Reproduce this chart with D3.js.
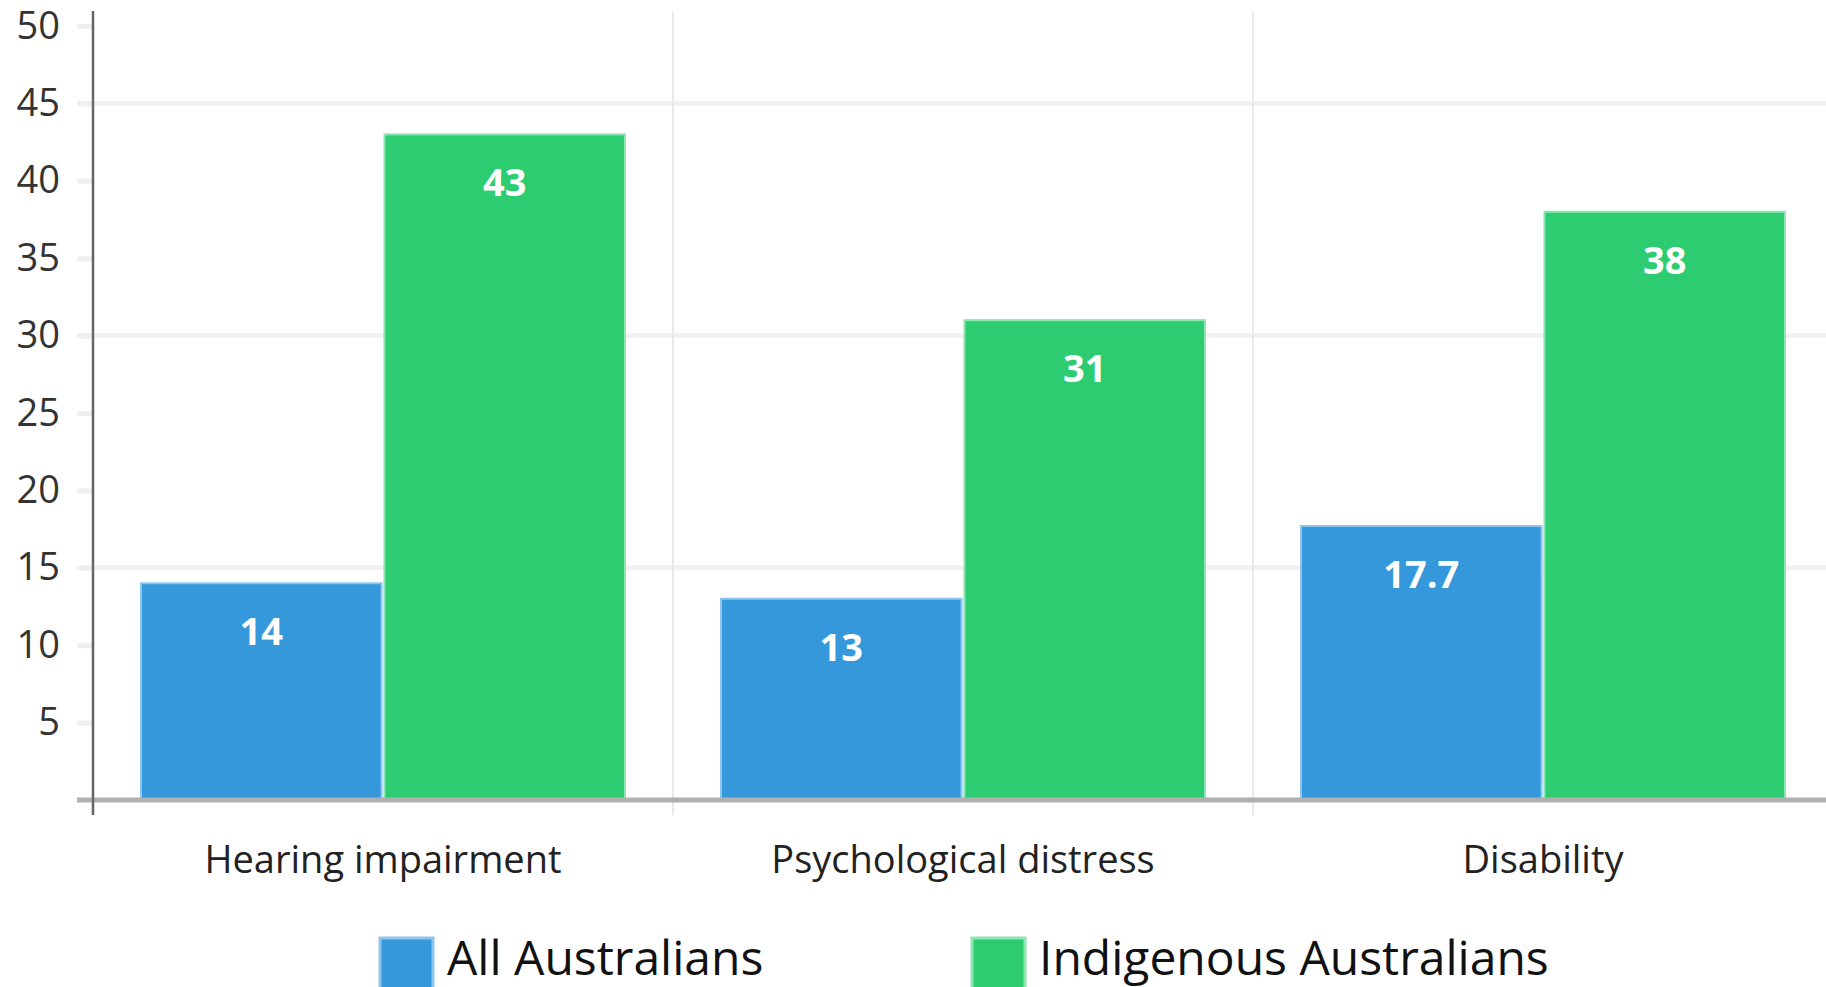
<!DOCTYPE html>
<html><head><meta charset="utf-8">
<script src="https://cdn.jsdelivr.net/npm/d3@7"></script>
<style>html,body{margin:0;padding:0;background:#fff;overflow:hidden}svg{display:block}text{font-family:"Open Sans",sans-serif}</style>
</head><body><svg id="c" width="1826" height="987"></svg>
<script>
const categories = ["Hearing impairment", "Psychological distress", "Disability"];
const seriesNames = ["All Australians", "Indigenous Australians"];
const allAustralians = [14, 13, 17.7];
const indigenousAustralians = [43, 31, 38];
const yTicks = [5, 10, 15, 20, 25, 30, 35, 40, 45, 50];
const gridTicks = [15, 30, 45];
const colors = ["#3498db", "#2ecc71"];
const strokes = ["#8cc6ef", "#8be6b1"];

const svg = d3.select("#c");
const x0 = d3.scaleBand().domain(categories).range([93, 1833]);
const x1 = d3.scaleBand().domain(seriesNames).range([48, x0.bandwidth() - 48]).paddingInner(0.012);
const y = d3.scaleLinear().domain([0, 50]).range([800, 26]);

// gridlines
svg.append("g").selectAll("line").data(gridTicks).join("line")
  .attr("x1", 77).attr("x2", 1826).attr("y1", d => y(d)).attr("y2", d => y(d))
  .attr("stroke", "#f1f1f1").attr("stroke-width", 5);

// y axis ticks and labels
const yAxis = d3.axisLeft(y).tickValues(yTicks).tickSize(15).tickPadding(17);
const gy = svg.append("g").attr("transform", "translate(92,0)").call(yAxis);
gy.select(".domain").remove();
gy.selectAll(".tick line").attr("stroke", "#efefef").attr("stroke-width", 5);
gy.selectAll(".tick text").attr("font-size", 38).attr("fill", "#333").attr("font-family", "Open Sans");

// separators
svg.append("g").selectAll("line").data(categories.slice(1)).join("line")
  .attr("x1", d => x0(d)).attr("x2", d => x0(d)).attr("y1", 11).attr("y2", 815)
  .attr("stroke", "#e3e3e3").attr("stroke-width", 1.5);

// bars
const data = categories.map((c, i) => ({cat: c, vals: [allAustralians[i], indigenousAustralians[i]]}));
const groups = svg.append("g").selectAll("g").data(data).join("g")
  .attr("transform", d => `translate(${x0(d.cat)},0)`);
groups.selectAll("rect").data(d => d.vals.map((v, j) => ({s: seriesNames[j], v, j}))).join("rect")
  .attr("x", d => x1(d.s)).attr("width", x1.bandwidth())
  .attr("y", d => y(d.v)).attr("height", d => y(0) - y(d.v))
  .attr("fill", d => colors[d.j]).attr("stroke", d => strokes[d.j]).attr("stroke-width", 2);
groups.selectAll("text").data(d => d.vals.map((v, j) => ({s: seriesNames[j], v, j}))).join("text")
  .attr("x", d => x1(d.s) + x1.bandwidth() / 2).attr("y", d => y(d.v) + 62)
  .attr("text-anchor", "middle").attr("fill", "#fff").attr("font-weight", 700).attr("font-size", 38)
  .text(d => d.v);

// baseline
svg.append("line").attr("x1", 77).attr("x2", 1826).attr("y1", y(0)).attr("y2", y(0))
  .attr("stroke", "#b0b0b0").attr("stroke-width", 5);

// y axis line
svg.append("line").attr("x1", 93).attr("x2", 93).attr("y1", 11).attr("y2", 815)
  .attr("stroke", "#666").attr("stroke-width", 2.5);

// category labels
const xAxis = d3.axisBottom(x0).tickSize(0).tickPadding(0);
const gx = svg.append("g").attr("transform", "translate(0,873)").call(xAxis);
gx.select(".domain").remove();
gx.selectAll(".tick text").attr("dy", 0).attr("font-size", 38).attr("fill", "#222").attr("font-family", "Open Sans");

// legend
const legendX = [380, 972];
const lg = svg.append("g").selectAll("g").data(seriesNames).join("g")
  .attr("transform", (d, i) => `translate(${legendX[i]},938)`);
lg.append("rect").attr("width", 53).attr("height", 53)
  .attr("fill", (d, i) => colors[i]).attr("stroke", (d, i) => strokes[i]).attr("stroke-width", 3);
lg.append("text").attr("x", 67).attr("y", 37).attr("font-size", 48).attr("fill", "#111").text(d => d);
</script></body></html>
